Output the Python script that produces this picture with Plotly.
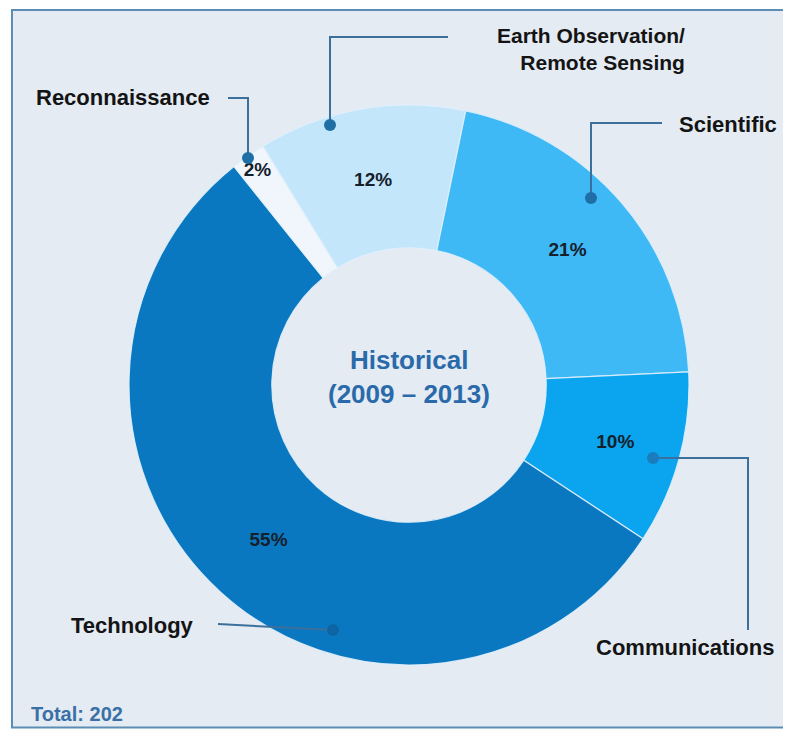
import plotly.graph_objects as go

# ---- data ----
categories = ["Earth Observation/<br>Remote Sensing", "Scientific", "Communications", "Technology", "Reconnaissance"]
short_names = ["Earth Observation", "Scientific", "Communications", "Technology", "Reconnaissance"]
shares = [12, 21, 10, 55, 2]
slice_colors = ["#c4e6fb", "#3fb8f6", "#0aa5ee", "#0a78c0", "#f0f6fb"]
center_title = ["Historical", "(2009 – 2013)"]
total_count = 202

# page body has an 8px margin; keep the figure inside the 791x737 window
OFF = 8
W, H = 791 - 2 * OFF, 737 - 2 * OFF
FONT = "Liberation Sans, Arial, Helvetica, sans-serif"


def px(x):
    return (x - OFF) / W


def py(y):
    return 1 - (y - OFF) / H


# pie geometry (window pixels)
cx, cy, R = 409, 385, 280

fig = go.Figure(go.Pie(
    labels=short_names,
    values=shares,
    sort=False,
    direction="clockwise",
    rotation=-31.5,
    hole=0.49,
    marker=dict(colors=slice_colors, line=dict(color="rgba(225,240,252,0.9)", width=1.2)),
    textinfo="percent",
    texttemplate="%{percent:.0%}",
    textposition="inside",
    insidetextorientation="horizontal",
    textfont=dict(family=FONT, size=19, color="#15202b", weight=700),
    domain=dict(x=[px(cx - R), px(cx + R)], y=[py(cy + R), py(cy - R)]),
    showlegend=False,
    hoverinfo="label+percent",
))

shapes = []
# frame (open on the right, where it runs off the picture)
BC = "#5b8db5"
BOT = 727.5
shapes.append(dict(type="rect", xref="paper", yref="paper", layer="below",
                   x0=px(12), x1=px(820), y0=py(BOT), y1=py(10),
                   fillcolor="#e4ebf3", line=dict(width=0)))
shapes.append(dict(type="path", xref="paper", yref="paper", layer="below",
                   path=f"M {px(820)},{py(10)} L {px(12)},{py(10)} L {px(12)},{py(BOT)} L {px(820)},{py(BOT)}",
                   line=dict(color=BC, width=2)))

LC = "#3b6f9c"
leaders = [
    [(228, 98), (248, 98), (248, 158)],
    [(448, 37), (330, 37), (330, 125)],
    [(662, 123), (591, 123), (591, 198)],
    [(653, 458), (748, 458), (748, 630)],
    [(218, 624), (333, 630)],
]
dots = [(248, 158, "#1f6ea6"), (330, 125, "#1f6ea6"), (591, 198, "#1f6ea6"),
        (653, 458, "#1a7cbd"), (333, 630, "#0d66a3")]
for pts in leaders:
    path = "M " + " L ".join(f"{px(x)},{py(y)}" for x, y in pts)
    shapes.append(dict(type="path", xref="paper", yref="paper", path=path,
                       line=dict(color=LC, width=2)))
for x, y, c in dots:
    r = 6
    shapes.append(dict(type="circle", xref="paper", yref="paper",
                       x0=px(x - r), x1=px(x + r), y0=py(y + r), y1=py(y - r),
                       fillcolor=c, line=dict(width=0)))

LF = dict(family=FONT, size=22, color="#141414", weight=700)
annotations = [
    dict(text="Reconnaissance", x=px(212), y=py(98), xanchor="right", yanchor="middle"),
    dict(text=categories[0], x=px(687), y=py(49), xanchor="right", yanchor="middle", align="right",
         font=dict(family=FONT, size=21, color="#141414", weight=700)),
    dict(text="Scientific", x=px(677), y=py(124), xanchor="left", yanchor="middle"),
    dict(text="Communications", x=px(594), y=py(647), xanchor="left", yanchor="middle"),
    dict(text="Technology", x=px(69), y=py(625), xanchor="left", yanchor="middle"),
]
for a in annotations:
    a.setdefault("font", LF)
    a.update(xref="paper", yref="paper", showarrow=False)

CF = dict(family=FONT, size=26, color="#2a6aaa", weight=700)
annotations.append(dict(text=center_title[0], x=px(cx), y=py(360), xref="paper", yref="paper",
                        showarrow=False, xanchor="center", yanchor="middle", font=CF))
annotations.append(dict(text=center_title[1], x=px(cx), y=py(394), xref="paper", yref="paper",
                        showarrow=False, xanchor="center", yanchor="middle", font=CF))
annotations.append(dict(text=f"Total: {total_count}", x=px(29), y=py(714), xref="paper", yref="paper",
                        showarrow=False, xanchor="left", yanchor="middle",
                        font=dict(family=FONT, size=20, color="#3a70a6", weight=700)))

fig.update_layout(
    width=W, height=H,
    margin=dict(l=0, r=0, t=0, b=0),
    paper_bgcolor="white",
    plot_bgcolor="white",
    shapes=shapes,
    annotations=annotations,
    uniformtext=dict(minsize=19, mode="show"),
)

fig.write_html("out.html")
